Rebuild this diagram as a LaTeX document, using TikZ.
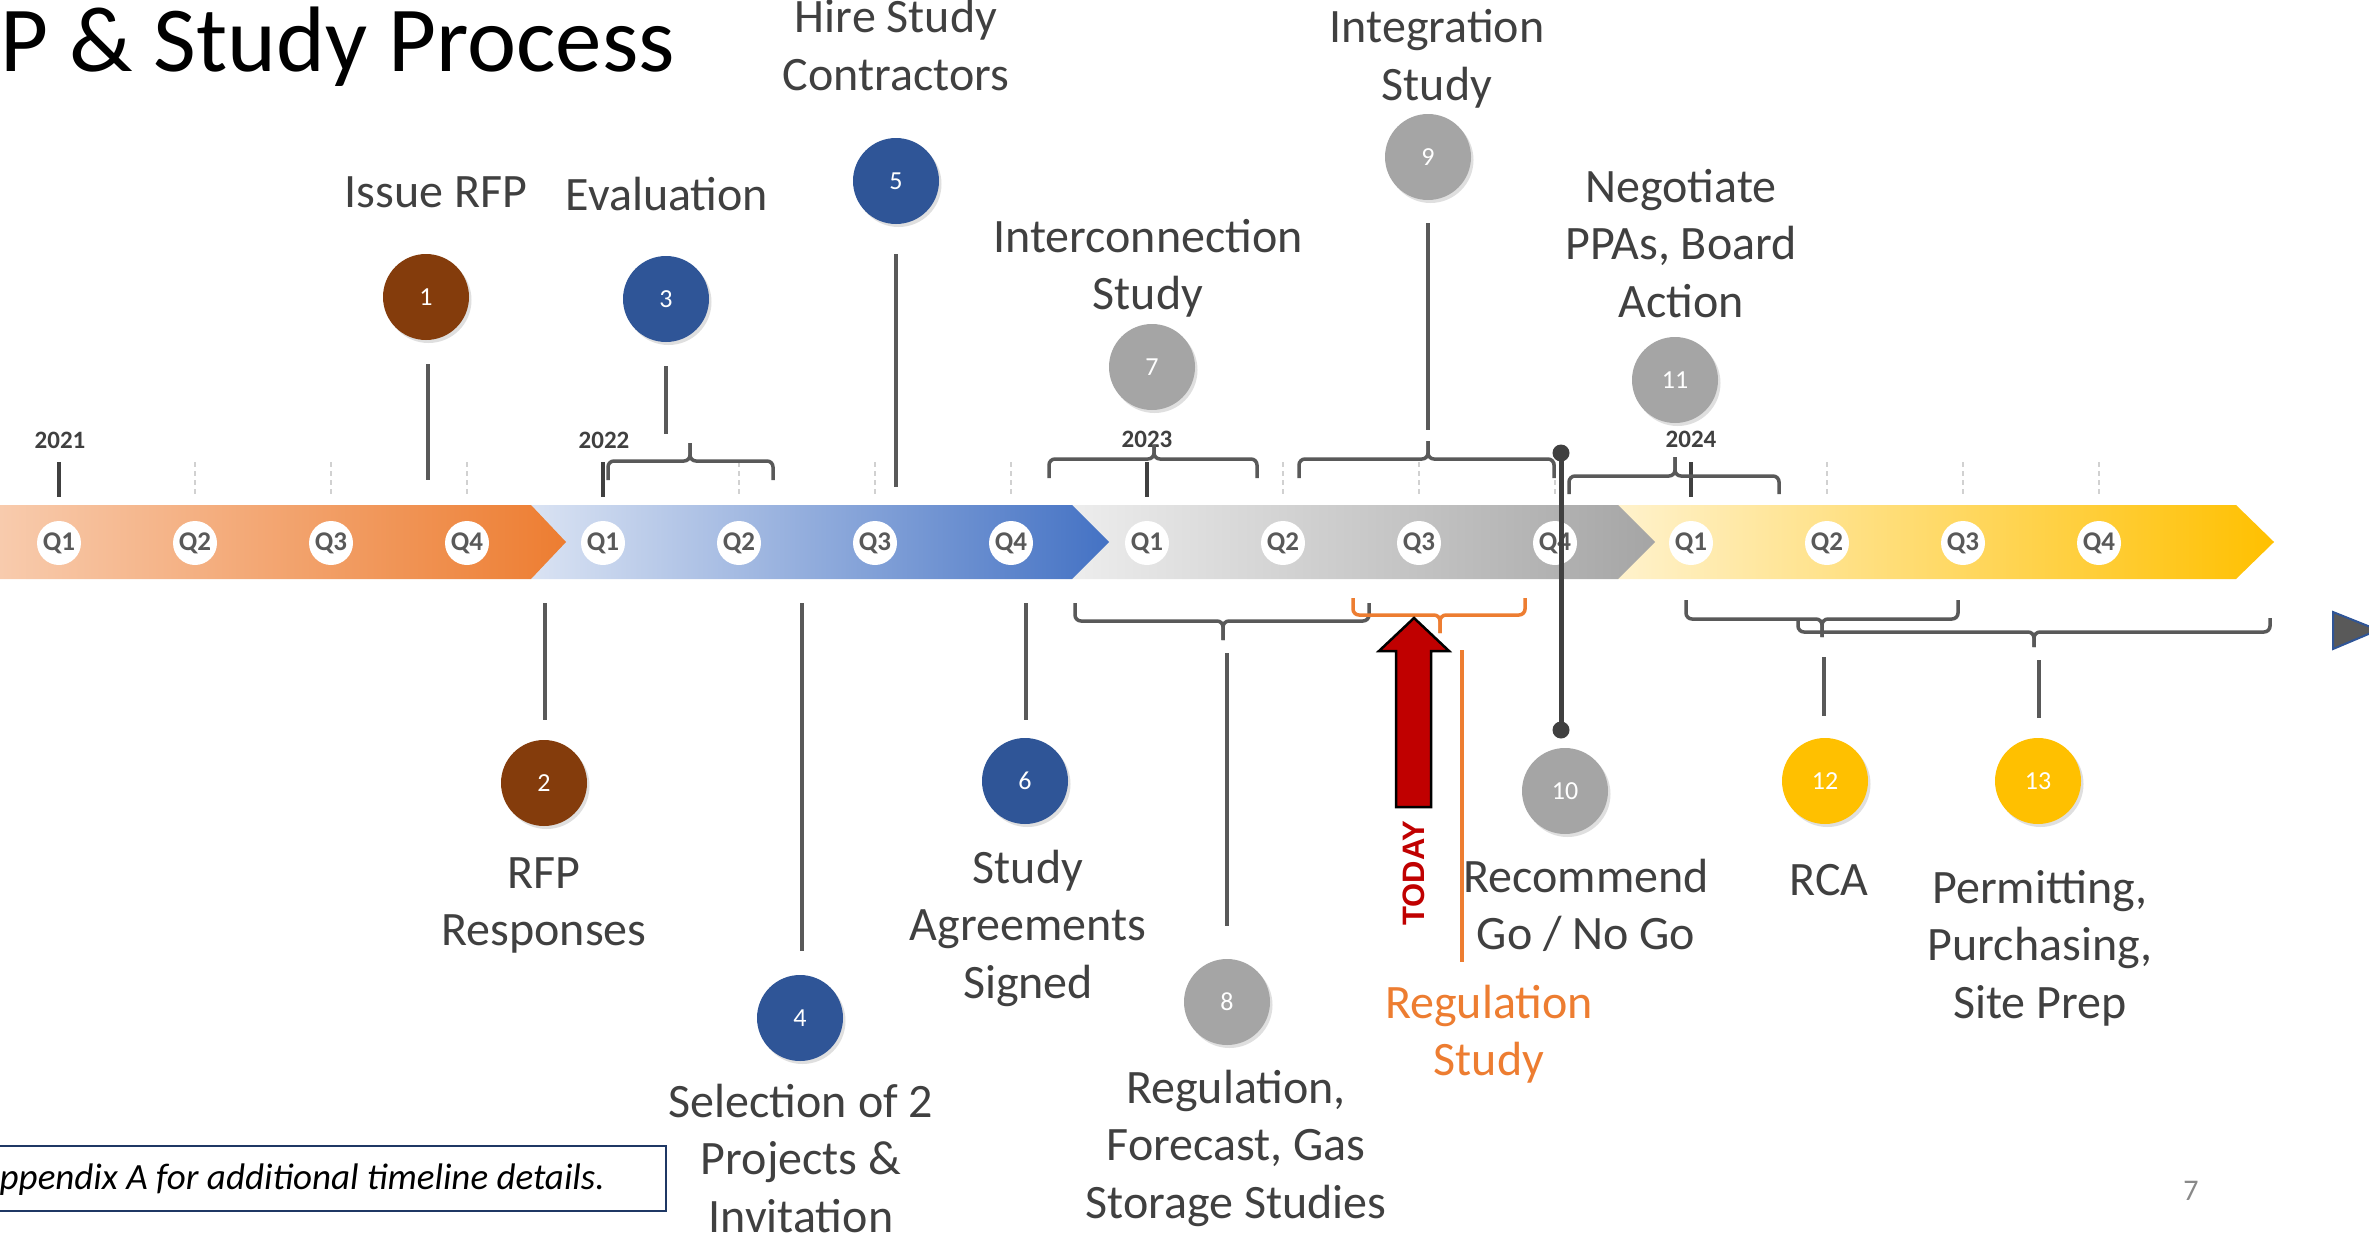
\documentclass[tikz,border=0pt]{standalone}
\usepackage{fontspec}
\setmainfont{Carlito}
\newfontfamily\arialfont{Liberation Sans}
\usetikzlibrary{shadows}
\definecolor{txt}{HTML}{404040}
\definecolor{lin}{HTML}{595959}
\definecolor{cbrown}{HTML}{843C0C}
\definecolor{cblue}{HTML}{2F5597}
\definecolor{cgray}{HTML}{A5A5A5}
\definecolor{cyel}{HTML}{FFC000}
\definecolor{corange}{HTML}{ED7D31}
\definecolor{cred}{HTML}{C00000}
\definecolor{boxblue}{HTML}{1F3864}
\definecolor{pgnum}{HTML}{898989}
\newcommand\mylines[1]{\begin{tabular}[t]{@{}c@{}}#1\end{tabular}}
\begin{document}
\begin{tikzpicture}[x=1pt,y=-1pt,
 lbl/.style={anchor=base, inner sep=0pt, text=txt, font=\fontsize{48}{57.5}\selectfont},
 dot/.style={circle, minimum size=86pt, inner sep=0pt, text=white, font=\fontsize{26}{30}\selectfont, drop shadow={shadow xshift=2.5pt, shadow yshift=-3pt, opacity=0.25}},
 qlab/.style={circle, fill=white, minimum size=44pt, inner sep=0pt, text=lin, font=\bfseries\fontsize{27}{30}\selectfont},
 yr/.style={anchor=base, inner sep=0pt, text=txt, font=\bfseries\fontsize{25}{30}\selectfont},
 stem/.style={draw=lin, line width=4.5pt},
 brk/.style={draw=lin, line width=3.5pt, rounded corners=6pt},
 qtick/.style={draw=black!18, line width=1.2pt, dash pattern=on 5pt off 4pt},
 ytick/.style={draw=txt, line width=3.5pt}]
\useasboundingbox (0,0) rectangle (2369,1239);
\clip (0,0) rectangle (2369,1239);
\fill[white] (0,0) rectangle (2369,1239);

% title
\node[anchor=base west, inner sep=0pt, font=\fontsize{93}{100}\selectfont] (title) at (0,71) {P \& Study Process};

% timeline bar segments
\shade[left color={rgb,255:red,255;green,242;blue,204}, middle color={rgb,255:red,255;green,220;blue,140}, right color=cyel]
  (1618,505) -- (2236,505) -- (2274,542) -- (2236,579) -- (1618,579) -- cycle;
\shade[left color={rgb,255:red,237;green,237;blue,237}, middle color={rgb,255:red,214;green,214;blue,214}, right color=cgray]
  (1072,505) -- (1618,505) -- (1655,542) -- (1618,579) -- (1072,579) -- cycle;
\shade[left color={rgb,255:red,218;green,227;blue,243}, middle color={rgb,255:red,176;green,194;blue,230}, right color={rgb,255:red,68;green,114;blue,196}]
  (531,505) -- (1072,505) -- (1109,542) -- (1072,579) -- (531,579) -- cycle;
\shade[left color={rgb,255:red,248;green,203;blue,173}, middle color={rgb,255:red,243;green,181;blue,144}, right color=corange]
  (0,505) -- (531,505) -- (566,542) -- (531,579) -- (0,579) -- cycle;

% quarter labels
\foreach \k/\n in {0/1,1/2,2/3,3/4,4/1,5/2,6/3,7/4,8/1,9/2,10/3,11/4,12/1,13/2,14/3,15/4}
  \node[qlab] (q\k) at ({59+136*\k},543) {Q\n};

% quarter ticks
\foreach \k in {1,2,3,5,6,7,9,10,11,13,14,15}
  \draw[qtick] ({59+136*\k},462) -- ({59+136*\k},497);
\foreach \k in {0,4,8,12}
  \draw[ytick] ({59+136*\k},462) -- ({59+136*\k},497);

% years
\node[yr] (y21) at (60,448) {2021};
\node[yr] (y22) at (604,448) {2022};
\node[yr] (y23) at (1147,447) {2023};
\node[yr] (y24) at (1691,447) {2024};

% brackets above
\draw[brk] (608,480) -- (608,461) -- (690,461) -- (690,443);
\draw[brk] (773,480) -- (773,461) -- (690,461) -- (690,443);
\draw[brk] (1049,478) -- (1049,459) -- (1154,459) -- (1154,445);
\draw[brk] (1257,478) -- (1257,459) -- (1154,459) -- (1154,445);
\draw[brk] (1299,478) -- (1299,459) -- (1428,459) -- (1428,441);
\draw[brk] (1554,478) -- (1554,459) -- (1428,459) -- (1428,441);
\draw[brk] (1569,494) -- (1569,476) -- (1675,476) -- (1675,457);
\draw[brk] (1779,494) -- (1779,476) -- (1675,476) -- (1675,457);
% brackets below
\draw[brk] (1075,603) -- (1075,621) -- (1223,621) -- (1223,640);
\draw[brk] (1369,603) -- (1369,621) -- (1223,621) -- (1223,640);
\draw[brk, draw=corange] (1353,598) -- (1353,615) -- (1440,615) -- (1440,633);
\draw[brk, draw=corange] (1525,598) -- (1525,615) -- (1440,615) -- (1440,633);
\draw[brk] (1686,600) -- (1686,619) -- (1822,619) -- (1822,637);
\draw[brk] (1958,600) -- (1958,619) -- (1822,619) -- (1822,637);
\draw[brk] (1798,618) -- (1798,632) -- (2034,632) -- (2034,647);
\draw[brk] (2270,618) -- (2270,632) -- (2034,632) -- (2034,647);

% stems
\coordinate (s1a) at (428,364); \coordinate (s1b) at (428,480);
\coordinate (s3a) at (666,366); \coordinate (s3b) at (666,434);
\coordinate (s5a) at (896,254); \coordinate (s5b) at (896,487);
\coordinate (s9a) at (1428,223); \coordinate (s9b) at (1428,430);
\coordinate (s2a) at (545,603); \coordinate (s2b) at (545,720);
\coordinate (s4a) at (802,603); \coordinate (s4b) at (802,951);
\coordinate (s6a) at (1026,603); \coordinate (s6b) at (1026,720);
\coordinate (s8a) at (1227,653); \coordinate (s8b) at (1227,926);
\coordinate (s12a) at (1824,657); \coordinate (s12b) at (1824,716);
\coordinate (s13a) at (2039,660); \coordinate (s13b) at (2039,718);
\coordinate (sra) at (1462,650); \coordinate (srb) at (1462,962);
\coordinate (s10a) at (1561,453); \coordinate (s10b) at (1561,730);
\foreach \s in {1,3,5,9,2,4,6,8,12,13}
  \draw[stem] (s\s a) -- (s\s b);
\draw[stem, draw=corange, line width=4pt] (sra) -- (srb);
\draw[draw=txt, line width=5pt] (s10a) -- (s10b);
\fill[txt] (s10a) circle (8.5pt);
\fill[txt] (s10b) circle (8.5pt);

% circles
\node[dot, fill=cbrown] (c1) at (426,297) {1};
\node[dot, fill=cblue] (c3) at (666,299) {3};
\node[dot, fill=cblue] (c5) at (896,181) {5};
\node[dot, fill=cgray] (c7) at (1152,367) {7};
\node[dot, fill=cgray] (c9) at (1428,157) {9};
\node[dot, fill=cgray] (c11) at (1675,380) {11};
\node[dot, fill=cbrown] (c2) at (544,783) {2};
\node[dot, fill=cblue] (c4) at (800,1018) {4};
\node[dot, fill=cblue] (c6) at (1025,781) {6};
\node[dot, fill=cgray] (c8) at (1227,1002) {8};
\node[dot, fill=cgray] (c10) at (1565,791) {10};
\node[dot, fill=cyel] (c12) at (1825,781) {12};
\node[dot, fill=cyel] (c13) at (2038,781) {13};

% labels
\node[lbl] (t1) at (436,207) {Issue RFP};
\node[lbl] (t3) at (667,210) {Evaluation};
\node[lbl] (t5) at (896,33) {\mylines{Hire Study\\Contractors}};
\node[lbl] (t9) at (1437,43) {\mylines{Integration\\Study}};
\node[lbl] (t7) at (1148,252) {\mylines{Interconnection\\Study}};
\node[lbl] (t11) at (1681,202) {\mylines{Negotiate\\PPAs, Board\\Action}};
\node[lbl] (t2) at (544,888) {\mylines{RFP\\Responses}};
\node[lbl] (t4) at (801,1117) {\mylines{Selection of 2\\Projects \&\\Invitation}};
\node[lbl] (t6) at (1028,883) {\mylines{Study\\Agreements\\Signed}};
\node[lbl] (t8) at (1236,1103) {\mylines{Regulation,\\Forecast, Gas\\Storage Studies}};
\node[lbl, text=corange] (tr) at (1489,1018) {\mylines{Regulation\\Study}};
\node[lbl] (t10) at (1586,892) {\mylines{Recommend\\Go / No Go}};
\node[lbl] (t12) at (1829,895) {RCA};
\node[lbl] (t13) at (2040,903) {\mylines{Permitting,\\Purchasing,\\Site Prep}};

% TODAY arrow
\filldraw[fill=cred, draw=black, line width=2.5pt, line join=miter]
  (1414,618) -- (1449,651) -- (1431,651) -- (1431,807) -- (1396,807) -- (1396,651) -- (1379,651) -- cycle;
\node[rotate=90, inner sep=0pt, text=cred, font=\arialfont\bfseries\fontsize{31}{31}\selectfont] (today) at (1414,873) {TODAY};

% right triangle
\filldraw[fill=lin, draw=cblue, line width=2pt] (2333,612) -- (2378,630) -- (2333,649) -- cycle;

% footnote
\draw[draw=boxblue, line width=1.8pt] (-10,1146) rectangle (666,1211);
\node[anchor=base east, inner sep=0pt, font=\itshape\fontsize{37}{40}\selectfont] (note) at (605,1189) {ppendix A for additional timeline details.};

% page number
\node[anchor=base, inner sep=0pt, text=pgnum, font=\fontsize{30}{30}\selectfont] (pg) at (2191,1200) {7};
\end{tikzpicture}
\end{document}
